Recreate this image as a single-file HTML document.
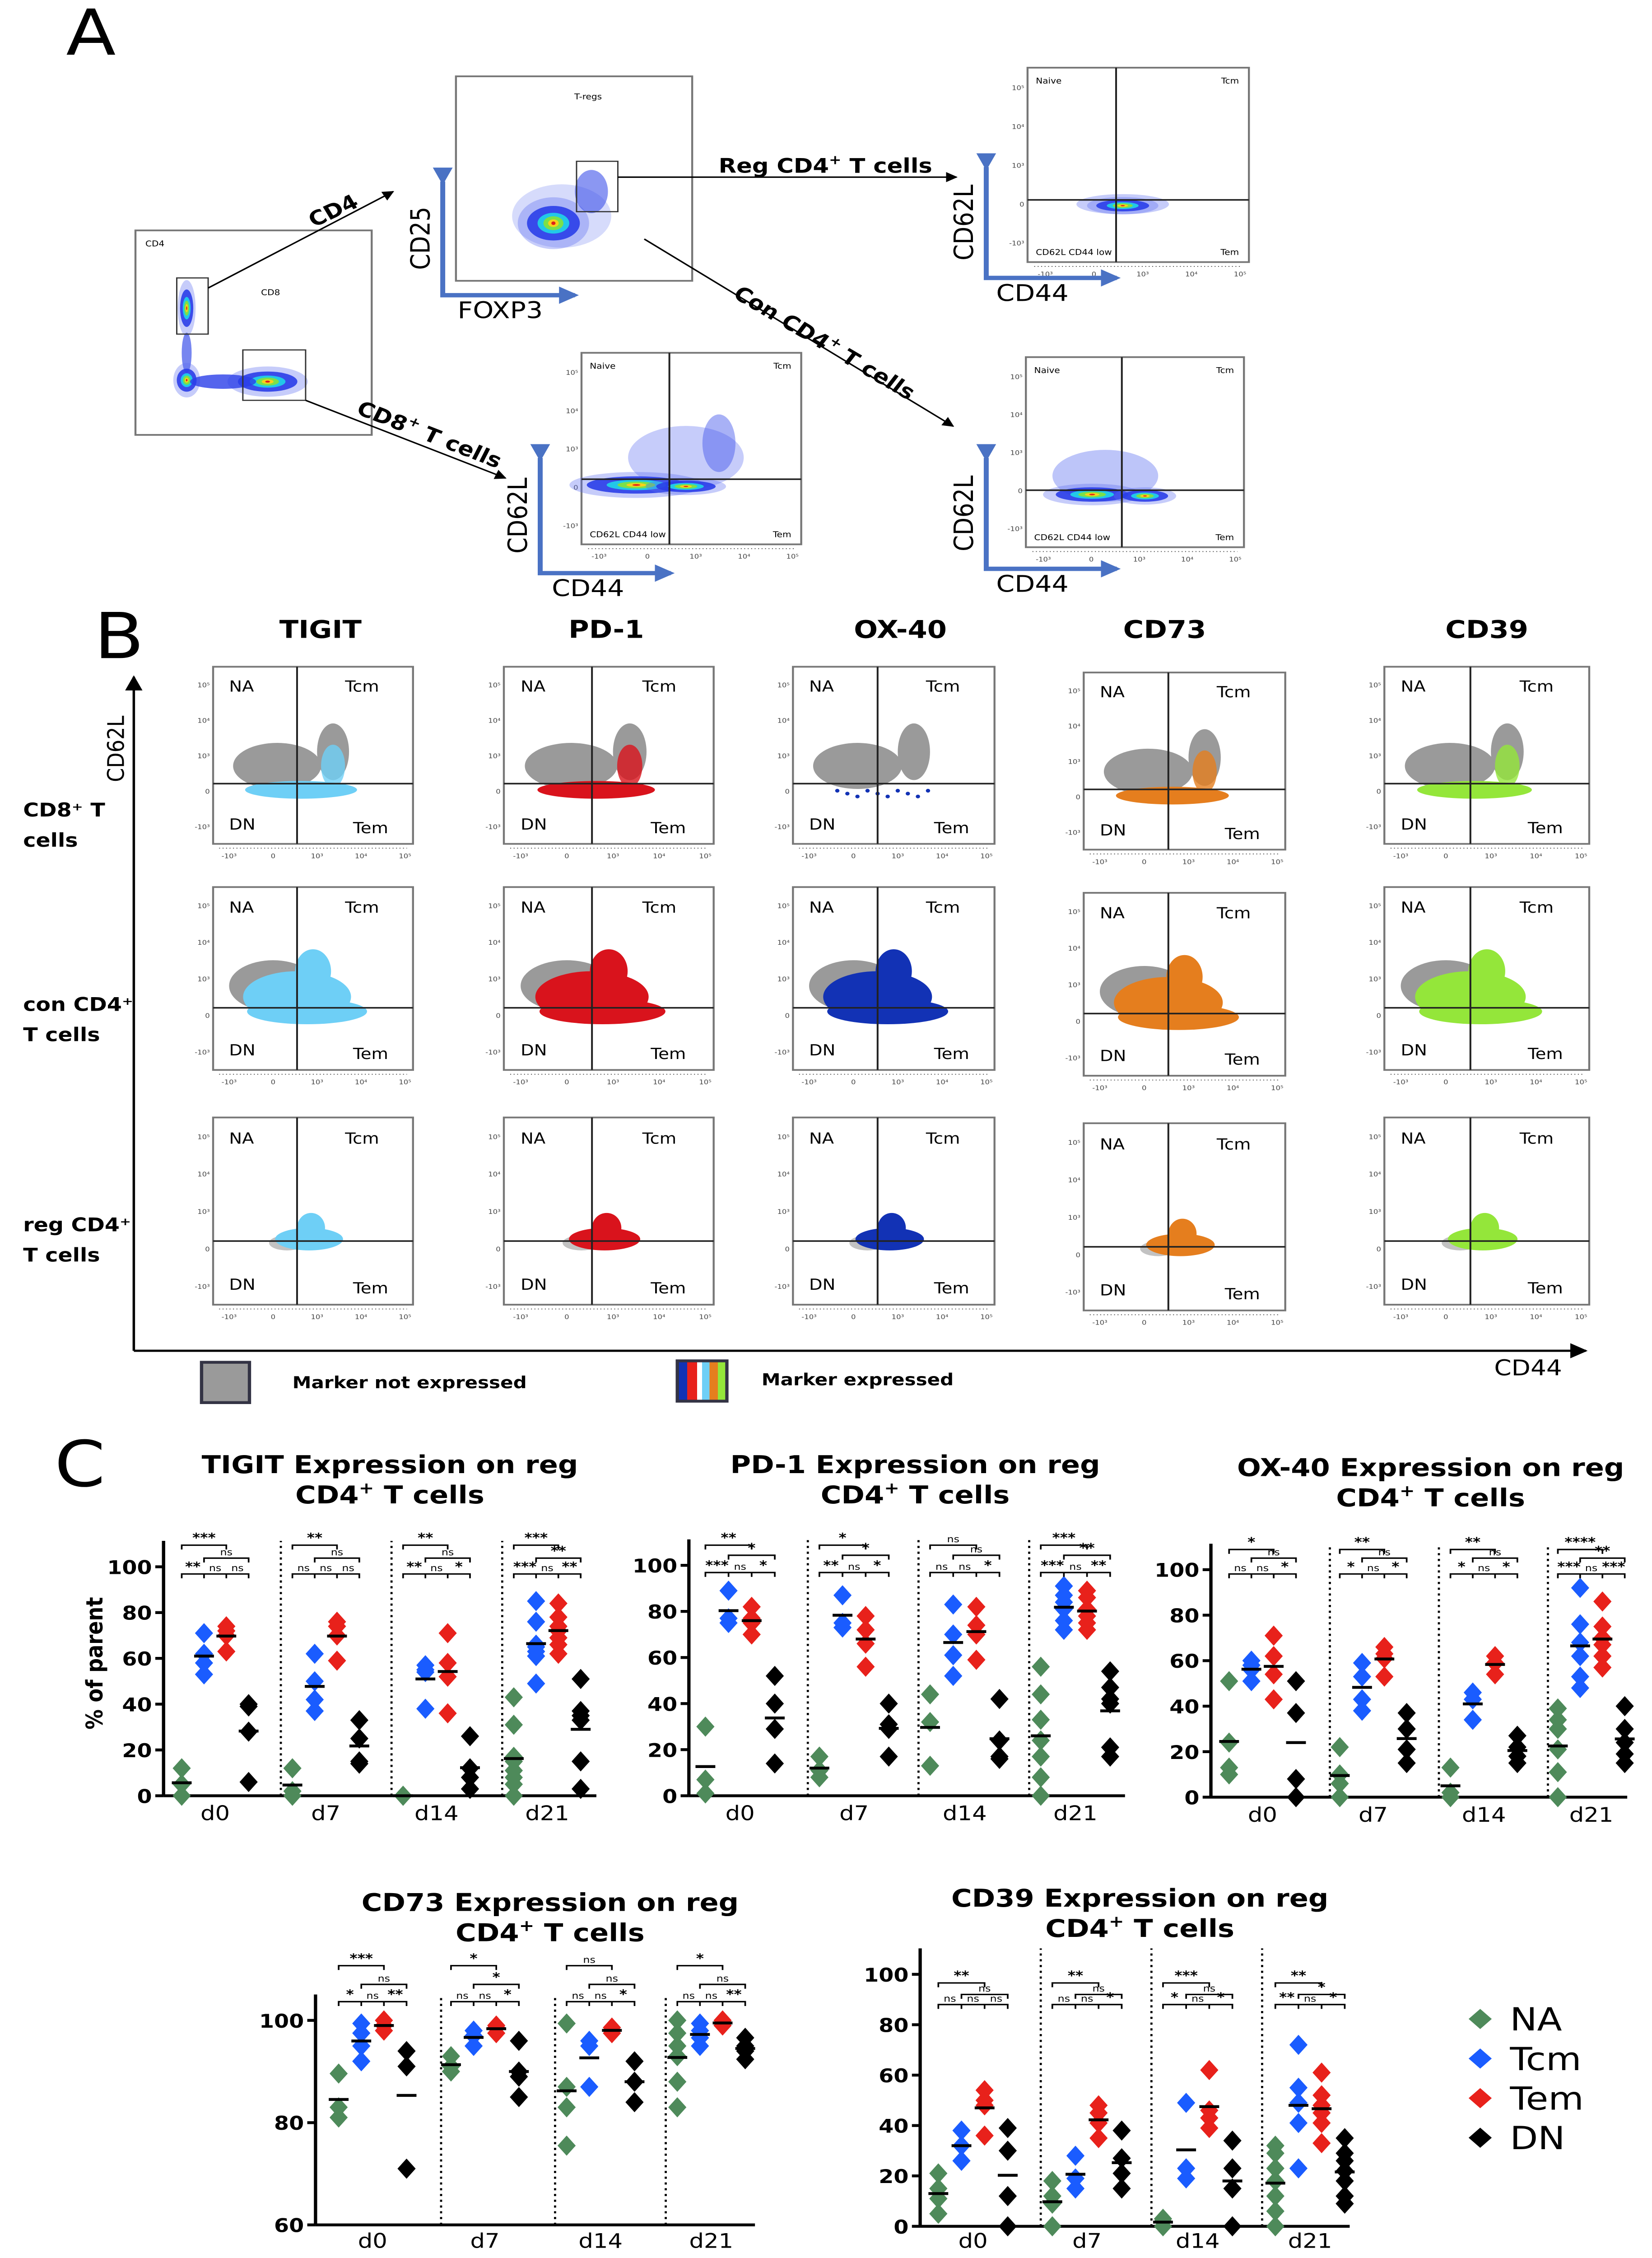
<!DOCTYPE html>
<html><head><meta charset="utf-8">
<style>
html,body{margin:0;padding:0;background:#fff;width:100%;height:100%;overflow:hidden;}
svg{display:block;position:fixed;left:0;top:0;width:100vw;height:100vh;}
text{font-family:"DejaVu Sans","Liberation Sans",sans-serif;}
</style></head>
<body>
<svg id="fig" xmlns="http://www.w3.org/2000/svg" viewBox="0 0 1000 1568" preserveAspectRatio="none">
<defs>
<marker id="ah" viewBox="0 0 10 10" refX="9" refY="5" markerWidth="7" markerHeight="7" orient="auto"><path d="M0,0 L10,5 L0,10 z" fill="#000"/></marker>
<marker id="ahb" viewBox="0 0 10 10" refX="8" refY="5" markerWidth="4" markerHeight="4" orient="auto"><path d="M0,0 L10,5 L0,10 z" fill="#4a72c4"/></marker>
<linearGradient id="multi" x1="0" x2="1" y1="0" y2="0">
<stop offset="0" stop-color="#1232b5"/><stop offset="0.2" stop-color="#1232b5"/><stop offset="0.2" stop-color="#e8211b"/><stop offset="0.4" stop-color="#e8211b"/><stop offset="0.4" stop-color="#fff"/><stop offset="0.5" stop-color="#fff"/><stop offset="0.5" stop-color="#6ecff6"/><stop offset="0.65" stop-color="#6ecff6"/><stop offset="0.65" stop-color="#e57e1e"/><stop offset="0.82" stop-color="#e57e1e"/><stop offset="0.82" stop-color="#94e63a"/><stop offset="1" stop-color="#94e63a"/>
</linearGradient>
</defs>
</svg>
<script>
// ---------- Panel C data ----------
const days = ["d0","d7","d14","d21"];
const seriesNames = ["NA","Tcm","Tem","DN"];
const seriesColors = ["#4e8a5a","#1a5cff","#e8211b","#000000"];
const yTicksPct = [0,20,40,60,80,100];
const yTicksCD73 = [60,80,100];

const tigitNA  = [[12,5,0],[12,2,0],[0,0],[43,31,17,15,11,8,5,0]];
const tigitTcm = [[71,62,58,53],[62,50,42,37],[57,55,54,38],[85,76,66,65,63,61,49]];
const tigitTem = [[74,72,70,63],[76,74,70,59],[71,58,52,36],[84,78,74,72,69,66,62]];
const tigitDN  = [[40,39,28,6],[33,25,15,14],[26,12,8,3],[51,37,35,33,15,3]];
const tigitSig = [["***","ns","**","ns","ns"],["**","ns","ns","ns","ns"],["**","ns","**","ns","*"],["***","**","***","ns","**"]];

const pd1NA  = [[30,7,1],[17,11,8],[44,32,13],[56,44,33,24,17,8,0]];
const pd1Tcm = [[89,77,75],[87,75,73],[83,70,61,52],[91,87,84,81,76,72]];
const pd1Tem = [[82,77,75,70],[78,72,66,56],[82,74,70,59],[89,86,81,78,75,72]];
const pd1DN  = [[52,40,29,14],[40,31,29,17],[42,24,17,16],[54,47,42,40,21,17]];
const pd1Sig = [["**","*","***","ns","*"],["*","*","**","ns","*"],["ns","ns","ns","ns","*"],["***","**","***","ns","**"]];

const ox40NA  = [[51,24,13,10],[22,10,6,0],[13,2,0],[39,34,30,21,11,0]];
const ox40Tcm = [[60,58,56,51],[59,53,43,38],[46,43,34],[92,76,68,62,53,48]];
const ox40Tem = [[71,62,54,43],[66,63,61,53],[62,59,54],[86,75,70,67,62,57]];
const ox40DN  = [[51,37,8,0],[37,30,21,15],[27,22,18,15],[40,30,24,19,15]];
const ox40Sig = [["*","ns","ns","ns","*"],["**","ns","*","ns","*"],["**","ns","*","ns","*"],["****","**","***","ns","***"]];

const cd73NA  = [[89.6,83,81],[93,91,90],[99.4,87,83,75.5],[100,97.5,95,93,88,83]];
const cd73Tcm = [[99.4,97.5,95,92],[98,97,95],[96,95,87],[99.4,98,96.6,95]];
const cd73Tem = [[100,99,98],[99,98.6,97.5],[98.6,97.5],[100,99]];
const cd73DN  = [[94,91,71],[96,90,89,85],[92,88,84],[96.6,95,94,92.4]];
const cd73Sig = [["***","ns","*","ns","**"],["*","*","ns","ns","*"],["ns","ns","ns","ns","*"],["*","ns","ns","ns","**"]];

const cd39NA  = [[21,15,11,5],[18,12,9,0],[3,2,0],[32,29,23,18,12,6,0]];
const cd39Tcm = [[38,32,26],[28,19,15],[49,23,19],[72,55,49,41,23]];
const cd39Tem = [[54,50,48,36],[48,45,41,35],[62,46,43,39],[61,52,48,45,41,33]];
const cd39DN  = [[39,30,12,0],[38,27,21,15],[34,23,15,0],[35,29,26,22,18,12,9]];
const cd39Sig = [["**","ns","ns","ns","ns"],["**","ns","ns","ns","*"],["***","ns","*","ns","*"],["**","*","**","ns","*"]];

const NS = "http://www.w3.org/2000/svg";
const svg = document.getElementById('fig');
function mk(tag, attrs, parent, name, inter) {
  const el = document.createElementNS(NS, tag);
  for (const k in attrs) el.setAttribute(k, attrs[k]);
  
  
  (parent || svg).appendChild(el);
  return el;
}
function txt(x, y, s, size, parent, name, extra) {
  const a = {x:x, y:y, 'font-size':size};
  if (extra) for (const k in extra) a[k] = extra[k];
  const t = mk('text', a, parent, name, false);
  t.textContent = s;
  return t;
}

function dotChart(cfg, na, tcm, tem, dn, sig, ticks) {
  const g = mk('g', {}, svg, cfg.name, false);
  const vmin = ticks[0];
  const y = v => cfg.yMinPx + (v - vmin) * (cfg.y100 - cfg.yMinPx) / (100 - vmin);
  const series = [na, tcm, tem, dn];
  const step = cfg.step;
  txt(cfg.tx, cfg.ty, cfg.title, 17, g, 'chart-title', {'text-anchor':'middle','font-weight':'bold'});
  const t2 = txt(cfg.tx, cfg.ty + 21, '', 17, g, 'chart-subtitle', {'text-anchor':'middle','font-weight':'bold'});
  t2.innerHTML = 'CD4<tspan font-size="11" dy="-7">+</tspan><tspan dy="7"> T cells</tspan>';
  mk('line', {x1:cfg.x0, x2:cfg.x0, y1:cfg.yMinPx, y2:cfg.y100 - 18, stroke:'#000','stroke-width':2}, g, 'y-axis', false);
  mk('line', {x1:cfg.x0, x2:cfg.x1, y1:cfg.yMinPx, y2:cfg.yMinPx, stroke:'#000','stroke-width':2}, g, 'x-axis', false);
  ticks.forEach(tv => {
    mk('line', {x1:cfg.x0 - 5, x2:cfg.x0, y1:y(tv), y2:y(tv), stroke:'#000','stroke-width':2}, g, 'y-tick', false);
    txt(cfg.x0 - 7, y(tv) + 5, String(tv), 13, g, 'y-tick-label', {'text-anchor':'end','font-weight':'bold'});
  });
  cfg.seps.forEach(sx => {
    mk('line', {x1:sx, x2:sx, y1:cfg.yMinPx, y2:cfg.y100 - 18, stroke:'#000','stroke-width':1.3,'stroke-dasharray':'1.5,2.5'}, g, 'group-separator', false);
  });
  days.forEach((d, gi) => {
    const gx = cfg.groupX[gi];
    txt(gx + 1.5 * step, Math.min(cfg.yMinPx + 17, 1561), d, 14, g, 'x-tick-label', {'text-anchor':'middle'});
    series.forEach((arr, si) => {
      const sx = gx + si * step;
      const vals = arr[gi];
      vals.forEach(v => {
        const py = y(v);
        mk('path', {d:`M${sx},${py-7} L${sx+5.5},${py} L${sx},${py+7} L${sx-5.5},${py} Z`, fill:seriesColors[si]}, g, 'point-' + seriesNames[si].toLowerCase() + '-' + d, false);
      });
      const mean = vals.reduce((a,b)=>a+b,0) / vals.length;
      mk('line', {x1:sx - 6, x2:sx + 6, y1:y(mean), y2:y(mean), stroke:'#000','stroke-width':2}, g, 'mean-line', false);
    });
    const s = sig[gi];
    const xs = [gx, gx + step, gx + 2*step, gx + 3*step];
    const br = (xa, xb, yy, lab) => {
      mk('path', {d:`M${xa},${yy+3} L${xa},${yy} L${xb},${yy} L${xb},${yy+3}`, fill:'none', stroke:'#000','stroke-width':1}, g, 'significance-bracket', false);
      if (lab) txt((xa+xb)/2, yy - 2, lab, lab === 'ns' ? 6.5 : 9, g, 'significance-label', {'text-anchor':'middle','font-weight': lab==='ns'?'normal':'bold'});
    };
    br(xs[0], xs[2], cfg.y100 + cfg.br[0], s[0]);
    br(xs[1], xs[3], cfg.y100 + cfg.br[1], s[1]);
    mk('path', {d:`M${xs[0]},${cfg.y100+cfg.br[2]+3} L${xs[0]},${cfg.y100+cfg.br[2]} L${xs[3]},${cfg.y100+cfg.br[2]} L${xs[3]},${cfg.y100+cfg.br[2]+3} M${xs[1]},${cfg.y100+cfg.br[2]} l0,3 M${xs[2]},${cfg.y100+cfg.br[2]} l0,3`, fill:'none', stroke:'#000','stroke-width':1}, g, 'significance-bracket', false);
    for (let k = 0; k < 3; k++) {
      const lab = s[2 + k];
      txt((xs[k]+xs[k+1])/2, cfg.y100 + cfg.br[2] - 2, lab, lab === 'ns' ? 6.5 : 9, g, 'significance-label', {'text-anchor':'middle','font-weight': lab==='ns'?'normal':'bold'});
    }
  });
}

dotChart({name:'tigit-chart', title:'TIGIT Expression on reg', tx:236, ty:1023, x0:99, x1:361, y100:1088, yMinPx:1247, groupX:[110,177,244,311], step:13.5, seps:[170,237,304], br:[-15,-6,5]}, tigitNA, tigitTcm, tigitTem, tigitDN, tigitSig, yTicksPct);
dotChart({name:'pd1-chart', title:'PD-1 Expression on reg', tx:554, ty:1023, x0:417, x1:681, y100:1087, yMinPx:1247, groupX:[427,496,563,630], step:14, seps:[489,556,623], br:[-14,-7,5]}, pd1NA, pd1Tcm, pd1Tem, pd1DN, pd1Sig, yTicksPct);
dotChart({name:'ox40-chart', title:'OX-40 Expression on reg', tx:866, ty:1025, x0:733, x1:985, y100:1090, yMinPx:1248, groupX:[744,811,878,943], step:13.5, seps:[805,871,937], br:[-14,-8,3]}, ox40NA, ox40Tcm, ox40Tem, ox40DN, ox40Sig, yTicksPct);
dotChart({name:'cd73-chart', title:'CD73 Expression on reg', tx:333, ty:1327, x0:191, x1:457, y100:1403, yMinPx:1545, groupX:[205,273,343,410], step:13.7, seps:[267,336,403], br:[-38,-25,-13]}, cd73NA, cd73Tcm, cd73Tem, cd73DN, cd73Sig, yTicksCD73);
dotChart({name:'cd39-chart', title:'CD39 Expression on reg', tx:690, ty:1324, x0:557, x1:817, y100:1371, yMinPx:1546, groupX:[568,637,704,772], step:14, seps:[630,697,764], br:[6,14,21]}, cd39NA, cd39Tcm, cd39Tem, cd39DN, cd39Sig, yTicksPct);

txt(0, 0, '% of parent', 14, svg, 'y-axis-title', {transform:'translate(62,1155) rotate(-90)','text-anchor':'middle','font-weight':'bold'});
txt(33, 1032, 'C', 44, svg, 'panel-label-c', {});

const leg = mk('g', {}, svg, 'legend', false);
seriesNames.forEach((n, i) => {
  const ly = 1402 + i * 27.5;
  const e = mk('g', {}, leg, 'legend-entry', false);
  mk('path', {d:`M896,${ly-7} L903,${ly} L896,${ly+7} L889,${ly} Z`, fill:seriesColors[i]}, e, 'legend-marker', false);
  txt(914, ly + 8, n, 22, e, 'legend-label', {});
});

function ellipse(p, cx, cy, rx, ry, fill, name, op) {
  return mk('ellipse', {cx:cx, cy:cy, rx:rx, ry:ry, fill:fill, opacity: op == null ? 1 : op}, p, name, false);
}
function flowFrame(g, x, y, w, h, hy, vx) {
  mk('rect', {x:x, y:y, width:w, height:h, fill:'#fff', stroke:'#777','stroke-width':1.2}, g, 'plot-frame', false);
  const hyP = y + h * hy, vxP = x + w * vx;
  ['10⁵','10⁴','10³','0','-10³'].forEach((s, i) => {
    const ty = y + h * (0.1 + i * 0.2);
    txt(x - 2, ty + 2, s, 4.5, g, 'y-tick-label', {'text-anchor':'end', fill:'#444'});
  });
  ['-10³','0','10³','10⁴','10⁵'].forEach((s, i) => {
    const tx = x + w * (0.08 + i * 0.22);
    txt(tx, y + h + 10, s, 4.5, g, 'x-tick-label', {'text-anchor':'middle', fill:'#444'});
  });
  mk('line', {x1:x + w*0.03, x2:x + w*0.97, y1:y + h + 3, y2:y + h + 3, stroke:'#555','stroke-width':0.6,'stroke-dasharray':'0.6,1.5'}, g, 'x-ticks', false);
  return [hyP, vxP];
}
function flowLines(g, x, y, w, h, hyP, vxP) {
  mk('line', {x1:x, x2:x + w, y1:hyP, y2:hyP, stroke:'#222','stroke-width':1.1}, g, 'quadrant-line-h', false);
  mk('line', {x1:vxP, x2:vxP, y1:y, y2:y + h, stroke:'#222','stroke-width':1.1}, g, 'quadrant-line-v', false);
}
function flowB(name, x, y, w, h, color, row, sparse) {
  const g = mk('g', {}, svg, name, false);
  const hy = 0.66, vx = 0.42;
  const [hyP, vxP] = flowFrame(g, x, y, w, h, hy, vx);
  const gray = '#9a9a9a';
  if (row === 0) {
    ellipse(g, vxP - w*0.1, hyP - h*0.1, w*0.22, h*0.13, gray, 'negative-population');
    ellipse(g, vxP + w*0.18, hyP - h*0.18, w*0.08, h*0.16, gray, 'negative-population');
    if (sparse) {
      for (let i = 0; i < 10; i++) ellipse(g, vxP - w*0.2 + i*w*0.05, hyP + h*0.04 + (i%3)*2, 1.3, 1.3, color, 'positive-dot');
    } else {
      ellipse(g, vxP + w*0.02, hyP + h*0.035, w*0.28, h*0.05, color, 'positive-population');
      ellipse(g, vxP + w*0.18, hyP - h*0.1, w*0.06, h*0.12, color, 'positive-population', 0.8);
    }
  } else if (row === 1) {
    ellipse(g, vxP - w*0.12, hyP - h*0.12, w*0.22, h*0.14, gray, 'negative-population');
    if (sparse) ellipse(g, vxP - w*0.1, hyP - h*0.02, w*0.18, h*0.08, gray, 'negative-population');
    ellipse(g, vxP + (sparse ? w*0.08 : 0), hyP - h*0.06, w*(sparse?0.2:0.27), h*0.14, color, 'positive-population');
    ellipse(g, vxP + w*0.05, hyP + h*0.02, w*0.3, h*0.07, color, 'positive-population');
    ellipse(g, vxP + w*0.08, hyP - h*0.2, w*0.09, h*0.12, color, 'positive-population');
  } else {
    ellipse(g, vxP - w*0.05, hyP + h*0.01, w*0.09, h*0.04, gray, 'negative-population', 0.6);
    ellipse(g, vxP + w*0.06, hyP - h*0.01, w*0.17, h*0.06, color, 'positive-population');
    ellipse(g, vxP + w*0.07, hyP - h*0.07, w*0.07, h*0.08, color, 'positive-population');
  }
  flowLines(g, x, y, w, h, hyP, vxP);
  txt(x + w*0.08, y + h*0.14, 'NA', 10.5, g, 'quadrant-label-na', {});
  txt(x + w*0.66, y + h*0.14, 'Tcm', 10.5, g, 'quadrant-label-tcm', {});
  txt(x + w*0.08, y + h*0.92, 'DN', 10.5, g, 'quadrant-label-dn', {});
  txt(x + w*0.7, y + h*0.94, 'Tem', 10.5, g, 'quadrant-label-tem', {});
}
const colX = [[129,121],[305,127],[480,122],[656,122],[838,124]];
const rowY = [[463,123],[616,127],[776,130]];
const markerColors = ['#6ecff6','#d9131c','#1232b5','#e57e1e','#94e63a'];
const markerNames = ['TIGIT','PD-1','OX-40','CD73','CD39'];
const headerX = [194,367,545,705,900];
for (let c = 0; c < 5; c++) {
  txt(headerX[c], 443, markerNames[c], 17, svg, 'column-header', {'text-anchor':'middle','font-weight':'bold'});
  for (let r = 0; r < 3; r++) {
    flowB('flow-plot-' + markerNames[c].toLowerCase() + '-row' + r, colX[c][0], rowY[r][0] + (c===3?4:0), colX[c][1], rowY[r][1], markerColors[c], r, c === 2 && r === 0);
  }
}
txt(57, 457, 'B', 44, svg, 'panel-label-b', {});
const rl = [['CD8⁺ T','cells',567],['con CD4⁺','T cells',702],['reg CD4⁺','T cells',855]];
rl.forEach(r => {
  txt(14, r[2], r[0], 13, svg, 'row-label', {'font-weight':'bold'});
  txt(14, r[2] + 21, r[1], 13, svg, 'row-label', {'font-weight':'bold'});
});
mk('line', {x1:81, x2:81, y1:938, y2:470, stroke:'#000','stroke-width':1.5,'marker-end':'url(#ah)'}, svg, 'big-y-axis', false);
mk('line', {x1:81, x2:960, y1:938, y2:938, stroke:'#000','stroke-width':1.5,'marker-end':'url(#ah)'}, svg, 'big-x-axis', false);
txt(0, 0, 'CD62L', 14, svg, 'big-y-axis-title', {transform:'translate(75,520) rotate(-90)','text-anchor':'middle'});
txt(925, 955, 'CD44', 15, svg, 'big-x-axis-title', {'text-anchor':'middle'});
mk('rect', {x:122, y:946, width:29, height:28, fill:'#9a9a9a', stroke:'#334', 'stroke-width':2}, svg, 'legend-not-expressed-swatch', false);
txt(177, 964, 'Marker not expressed', 11.5, svg, 'legend-not-expressed', {'font-weight':'bold'});
mk('rect', {x:410, y:945, width:30, height:28, fill:'url(#multi)', stroke:'#334', 'stroke-width':2}, svg, 'legend-expressed-swatch', false);
txt(461, 962, 'Marker expressed', 11.5, svg, 'legend-expressed', {'font-weight':'bold'});

function density(g, cx, cy, rx, ry, name) {
  ellipse(g, cx, cy, rx * 1.35, ry * 1.5, '#5b6ef0', name + '-halo', 0.35);
  ellipse(g, cx, cy, rx, ry, '#2a3ee8', name, 0.9);
  ellipse(g, cx, cy, rx * 0.6, ry * 0.6, '#22c8e8', name + '-mid');
  ellipse(g, cx, cy, rx * 0.38, ry * 0.4, '#7be04a', name + '-core');
  ellipse(g, cx, cy, rx * 0.2, ry * 0.22, '#f7d21a', name + '-peak');
  ellipse(g, cx, cy, rx * 0.08, ry * 0.1, '#e0201a', name + '-max');
}
function flowA(name, x, y, w, h, hy, vx, blobs) {
  const g = mk('g', {}, svg, name, false);
  const [hyP, vxP] = flowFrame(g, x, y, w, h, hy, vx);
  blobs(g, hyP, vxP);
  flowLines(g, x, y, w, h, hyP, vxP);
  txt(x + 5, y + 11, 'Naive', 5.5, g, 'quadrant-label', {});
  txt(x + w - 6, y + 11, 'Tcm', 5.5, g, 'quadrant-label', {'text-anchor':'end'});
  txt(x + 5, y + h - 5, 'CD62L CD44 low', 5.5, g, 'quadrant-label', {});
  txt(x + w - 6, y + h - 5, 'Tem', 5.5, g, 'quadrant-label', {'text-anchor':'end'});
}
function blueAxes(xv, yTop, yb, xr, lab1, lab2, lab2x) {
  mk('path', {d:`M${xv},${yTop} L${xv},${yb} L${xr},${yb}`, fill:'none', stroke:'#4a72c4','stroke-width':3,'marker-start':'url(#ahb)','marker-end':'url(#ahb)'}, svg, 'gate-axis-arrows', false);
  txt(0, 0, lab1, 16, svg, 'gate-y-label', {transform:`translate(${xv - 8},${(yTop + yb)/2}) rotate(-90)`,'text-anchor':'middle'});
  txt(lab2x, yb + 16, lab2, 16, svg, 'gate-x-label', {});
}
txt(40, 38, 'A', 44, svg, 'panel-label-a', {});
(function(){
  const g = mk('g', {}, svg, 'cd4-cd8-plot', false);
  mk('rect', {x:82, y:160, width:143, height:142, fill:'#fff', stroke:'#777','stroke-width':1.2}, g, 'plot-frame', false);
  density(g, 113, 214, 4, 13, 'cd4-population');
  ellipse(g, 113, 245, 3, 14, '#3d52ea', 'cd4-tail', 0.7);
  density(g, 113, 264, 6, 8, 'dn-population');
  density(g, 162, 265, 18, 7, 'cd8-population');
  ellipse(g, 135, 265, 20, 5, '#2a3ee8', 'cd8-tail', 0.8);
  mk('rect', {x:107, y:193, width:19, height:39, fill:'none', stroke:'#333','stroke-width':0.8}, g, 'cd4-gate', false);
  mk('rect', {x:147, y:243, width:38, height:35, fill:'none', stroke:'#333','stroke-width':0.8}, g, 'cd8-gate', false);
  txt(88, 171, 'CD4', 5.5, g, 'quadrant-label', {});
  txt(158, 205, 'CD8', 5.5, g, 'quadrant-label', {});
})();
(function(){
  const g = mk('g', {}, svg, 'treg-plot', false);
  mk('rect', {x:276, y:53, width:143, height:142, fill:'#fff', stroke:'#777','stroke-width':1.2}, g, 'plot-frame', false);
  ellipse(g, 340, 150, 30, 22, '#5b6ef0', 'treg-halo', 0.25);
  density(g, 335, 155, 16, 12, 'treg-population');
  ellipse(g, 358, 133, 10, 15, '#3d52ea', 'treg-tail', 0.6);
  mk('rect', {x:349, y:112, width:25, height:35, fill:'none', stroke:'#333','stroke-width':0.8}, g, 'treg-gate', false);
  txt(356, 69, 'T-regs', 5.5, g, 'plot-title', {'text-anchor':'middle'});
})();
flowA('reg-cd4-plot', 622, 47, 134, 135, 0.68, 0.4, (g, hyP, vxP) => {
  ellipse(g, vxP + 4, hyP + 3, 28, 7, '#5b6ef0', 'reg-halo', 0.35);
  density(g, vxP + 4, hyP + 4, 16, 4, 'reg-population');
});
flowA('cd8-subset-plot', 352, 245, 133, 133, 0.66, 0.4, (g, hyP, vxP) => {
  ellipse(g, vxP + 10, hyP - 15, 35, 22, '#5b6ef0', 'cd8-scatter', 0.35);
  ellipse(g, vxP + 30, hyP - 25, 10, 20, '#3d52ea', 'cd8-scatter', 0.45);
  density(g, vxP - 20, hyP + 4, 30, 6, 'cd8-subset-population');
  density(g, vxP + 10, hyP + 5, 18, 4, 'cd8-subset-population2');
});
flowA('con-cd4-plot', 621, 248, 132, 132, 0.7, 0.44, (g, hyP, vxP) => {
  ellipse(g, vxP - 10, hyP - 10, 32, 18, '#5b6ef0', 'con-scatter', 0.4);
  density(g, vxP - 18, hyP + 3, 22, 5, 'con-population');
  density(g, vxP + 14, hyP + 4, 14, 4, 'con-population2');
});
blueAxes(268, 126, 205, 348, 'CD25', 'FOXP3', 277);
blueAxes(597, 116, 193, 676, 'CD62L', 'CD44', 603);
blueAxes(327, 318, 398, 406, 'CD62L', 'CD44', 334);
blueAxes(597, 318, 395, 676, 'CD62L', 'CD44', 603);
mk('line', {x1:126, y1:200, x2:238, y2:133, stroke:'#000','stroke-width':1,'marker-end':'url(#ah)'}, svg, 'arrow-cd4', false);
txt(0, 0, 'CD4', 14, svg, 'arrow-label-cd4', {transform:'translate(190,158) rotate(-28)','font-weight':'bold'});
mk('line', {x1:374, y1:123, x2:579, y2:123, stroke:'#000','stroke-width':1,'marker-end':'url(#ah)'}, svg, 'arrow-reg-cd4', false);
const rlab = txt(435, 120, '', 14, svg, 'arrow-label-reg-cd4', {'font-weight':'bold'});
rlab.innerHTML = 'Reg CD4<tspan font-size="9" dy="-6">+</tspan><tspan dy="6"> T cells</tspan>';
mk('line', {x1:390, y1:166, x2:577, y2:296, stroke:'#000','stroke-width':1,'marker-end':'url(#ah)'}, svg, 'arrow-con-cd4', false);
const clab = txt(0, 0, '', 14, svg, 'arrow-label-con-cd4', {transform:'translate(443,206) rotate(34)','font-weight':'bold'});
clab.innerHTML = 'Con CD4<tspan font-size="9" dy="-6">+</tspan><tspan dy="6"> T cells</tspan>';
mk('line', {x1:185, y1:278, x2:306, y2:332, stroke:'#000','stroke-width':1,'marker-end':'url(#ah)'}, svg, 'arrow-cd8', false);
const c8lab = txt(0, 0, '', 14, svg, 'arrow-label-cd8', {transform:'translate(215,287) rotate(24)','font-weight':'bold'});
c8lab.innerHTML = 'CD8<tspan font-size="9" dy="-6">+</tspan><tspan dy="6"> T cells</tspan>';
</script>
</body></html>
